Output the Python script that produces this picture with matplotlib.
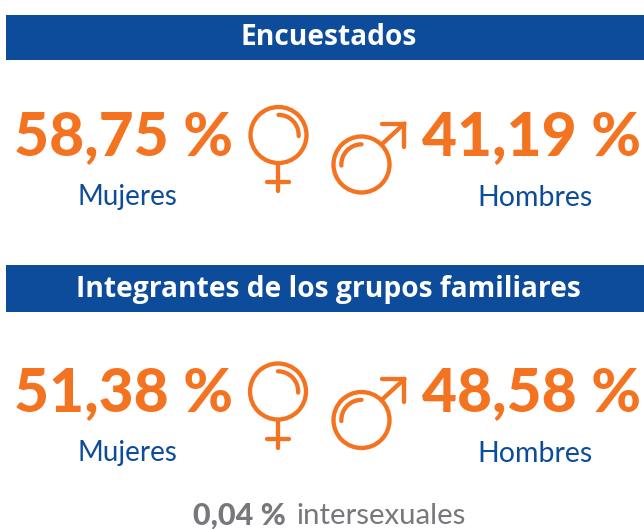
import matplotlib
matplotlib.use("Agg")
import matplotlib.pyplot as plt
from matplotlib.patches import Rectangle, Circle, Arc

W, H = 644, 529
ORANGE = "#F47321"
BLUE = "#0D4C9A"
GREY = "#77787B"
FONT = ["Lato", "Open Sans", "DejaVu Sans"]
TITLE_FONT = ["Open Sans", "DejaVu Sans"]
LW = 3.1

section_titles = ["Encuestados", "Integrantes de los grupos familiares"]
women_values = ["58,75 %", "51,38 %"]
men_values = ["41,19 %", "48,58 %"]
women_label = "Mujeres"
men_label = "Hombres"
other_value = "0,04 %"
other_label = "intersexuales"

fig = plt.figure(figsize=(W / 100, H / 100), dpi=100, facecolor="white")
ax = fig.add_axes([0, 0, 1, 1])
ax.set_xlim(0, W)
ax.set_ylim(H, 0)
ax.axis("off")


def female(cx, cy, r=28):
    ax.add_patch(Circle((cx, cy), r, fill=False, ec=ORANGE, lw=LW))
    ax.add_patch(Arc((cx, cy), r * 1.44, r * 1.44, angle=0, theta1=-90, theta2=3, ec=ORANGE, lw=LW,
                     capstyle="round"))
    ax.plot([cx, cx], [cy + r, cy + r + 28], color=ORANGE, lw=LW, solid_capstyle="round")
    ax.plot([cx - 11, cx + 11], [cy + r + 19, cy + r + 19], color=ORANGE, lw=LW, solid_capstyle="round")


def male(cx, cy, r=28):
    ax.add_patch(Circle((cx, cy), r, fill=False, ec=ORANGE, lw=LW))
    ax.add_patch(Arc((cx, cy), r * 1.44, r * 1.44, angle=0, theta1=177, theta2=270, ec=ORANGE, lw=LW,
                     capstyle="round"))
    k = 0.707 * r
    ax.plot([cx + k, cx + 43], [cy - k, cy - 41], color=ORANGE, lw=LW, solid_capstyle="round")
    ax.plot([cx + 21, cx + 43, cx + 43], [cy - 41, cy - 41, cy - 18], color=ORANGE, lw=LW,
            solid_joinstyle="miter", solid_capstyle="round")


bands = [(15, 60), (265, 312)]
title_base = [45, 297]
val_base = [155, 411]
label_y = [(197, 198), (453, 454)]
icons = [((278.5, 135), (361.5, 164.5)), ((278, 391.5), (361.5, 420))]
for i in range(2):
    top, bot = bands[i]
    ax.add_patch(Rectangle((6, top), W - 6, bot - top, fc=BLUE, ec="none"))
    ax.text(328.5, title_base[i], section_titles[i], color="white", fontsize=20.25,
            fontweight="bold", family=TITLE_FONT, ha="center", va="baseline")
    ax.text(123.5, val_base[i], women_values[i], color=ORANGE, fontsize=43.5, fontweight="black",
            family=FONT, ha="center", va="baseline")
    ax.text(127, label_y[i][0], women_label, color=BLUE, fontsize=20, family=FONT, ha="center", va="center")
    ax.text(532, val_base[i], men_values[i], color=ORANGE, fontsize=43.5, fontweight="black",
            family=FONT, ha="center", va="baseline")
    ax.text(535, label_y[i][1], men_label, color=BLUE, fontsize=20.5, family=FONT, ha="center", va="center")
    female(*icons[i][0])
    male(*icons[i][1])

ax.text(193, 516, other_value, color=GREY, fontsize=22, fontweight="black", family=FONT,
        ha="left", va="center")
ax.text(296, 516, other_label, color=GREY, fontsize=21.2, family=FONT, ha="left", va="center")

fig.savefig("out.png", dpi=100, facecolor="white")
